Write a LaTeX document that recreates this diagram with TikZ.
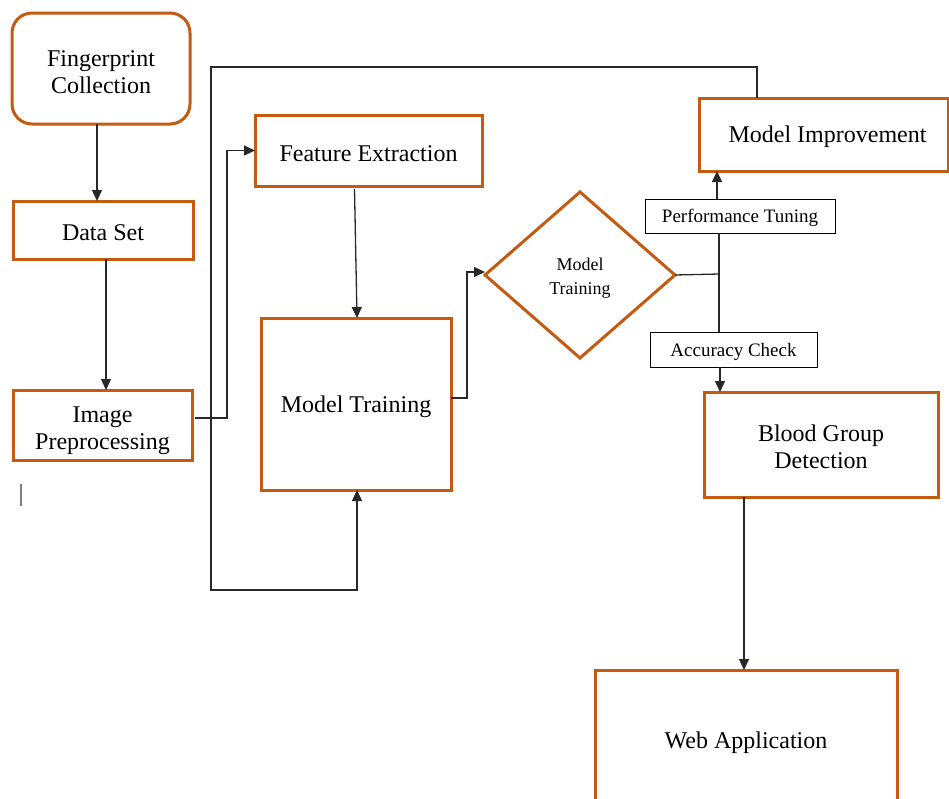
\documentclass[tikz,border=0pt]{standalone}
\usepackage{fontspec}
\setmainfont{Liberation Serif}
\usetikzlibrary{arrows.meta,shapes.geometric}
\definecolor{boxorange}{RGB}{197,90,17}
\definecolor{wire}{RGB}{40,40,40}
\newcommand{\lift}[1]{\rule{0pt}{#1}}
\tikzset{
  big/.style={font=\fontsize{24}{27}\selectfont, execute at begin node={\rule{0pt}{22pt}}},
  small/.style={font=\fontsize{19}{22}\selectfont, execute at begin node={\rule{0pt}{18pt}}},
  stage/.style={draw=boxorange, line width=3pt, rectangle, inner sep=0pt, outer sep=0pt,
                align=center, big, fill=white},
  tag/.style={draw=black, line width=1pt, rectangle, inner sep=0pt, outer sep=0pt,
              align=center, small, fill=white},
  decision/.style={draw=boxorange, line width=3pt, diamond, inner sep=0pt, outer sep=0pt,
                   align=center, font=\fontsize{18}{24}\selectfont},
  link/.style={draw=wire, line width=1.3pt},
  arr/.style={link, -{Triangle[length=11pt,width=10pt]}}
}
\begin{document}
\begin{tikzpicture}[x=1pt,y=-1pt]
  \useasboundingbox (0,0) rectangle (949,798);
  \clip (0,0) rectangle (949,798);
  \fill[white] (0,0) rectangle (949,798);

  % left column
  \node[stage, rounded corners=20pt, minimum width=178pt, minimum height=111pt] (fc) at (101,68.5) {\lift{24pt}Fingerprint\\Collection};
  \node[stage, minimum width=180pt, minimum height=58pt] (ds) at (103,230) {Data Set};
  \node[stage, minimum width=179pt, minimum height=70pt] (ip) at (102.5,425) {\lift{28pt}Image\\Preprocessing};

  % middle column
  \node[stage, minimum width=227pt, minimum height=71pt] (fe) at (368.5,150.5) {Feature Extraction};
  \node[stage, minimum width=190pt, minimum height=172pt] (mt) at (356,404) {Model Training};
  \node[decision, minimum width=190pt, minimum height=166pt] (dm) at (580,275) {\lift{19pt}Model\\Training};

  % right column
  \node[stage, minimum width=249pt, minimum height=73pt] (mi) at (823.5,134.5) {\hspace{8pt}Model Improvement};
  \node[tag, minimum width=190pt, minimum height=34pt] (pt) at (740,216) {Performance Tuning};
  \node[tag, minimum width=167pt, minimum height=35pt] (ac) at (733.5,349.5) {Accuracy Check};
  \node[stage, minimum width=234pt, minimum height=105pt] (bg) at (821,444.5) {\lift{22pt}Blood Group\\Detection};
  \node[stage, minimum width=302pt, minimum height=140pt] (wa) at (746,740) {Web Application};

  % routing columns and corners
  \coordinate (jn) at (719,274);
  \coordinate (up) at (717,0);
  \coordinate (dn) at (720,0);
  \coordinate (fbtop) at (757,67);
  \coordinate (fblow) at (211,590);
  \coordinate (wcol) at (744,0);

  % flow arrows
  \draw[arr] ([xshift=-4pt]fc.south) -- ([xshift=-6pt]ds.north);
  \draw[arr] ([xshift=3pt]ds.south) -- ([xshift=3.5pt]ip.north);
  \draw[arr] ([xshift=3pt,yshift=7pt]ip.east) -- ++(32,0) |- (fe.west);
  \draw[arr] ([xshift=-14pt,yshift=-3pt]fe.south) -- ([xshift=1pt]mt.north);
  \draw[arr] ([yshift=6pt]mt.east) -- ++(16,0) |- ([yshift=3pt]dm.west);
  \draw[link] (dm.east) -- (jn);
  \draw[link] (jn |- ac.north) -- (jn |- pt.south);
  \draw[arr] (up |- pt.north) -- (up |- mi.south);
  \draw[arr] (dn |- ac.south) -- (dn |- bg.north);
  \draw[arr] (wcol |- bg.south) -- (wcol |- wa.north);

  % feedback loop from improvement back into training
  \draw[arr] (fbtop |- mi.north) -- (fbtop) -| (fblow) -| ([xshift=1pt]mt.south);

  % stray mark
  \draw[draw=gray, line width=1.2pt] (21,484) -- (21,506);
\end{tikzpicture}
\end{document}
